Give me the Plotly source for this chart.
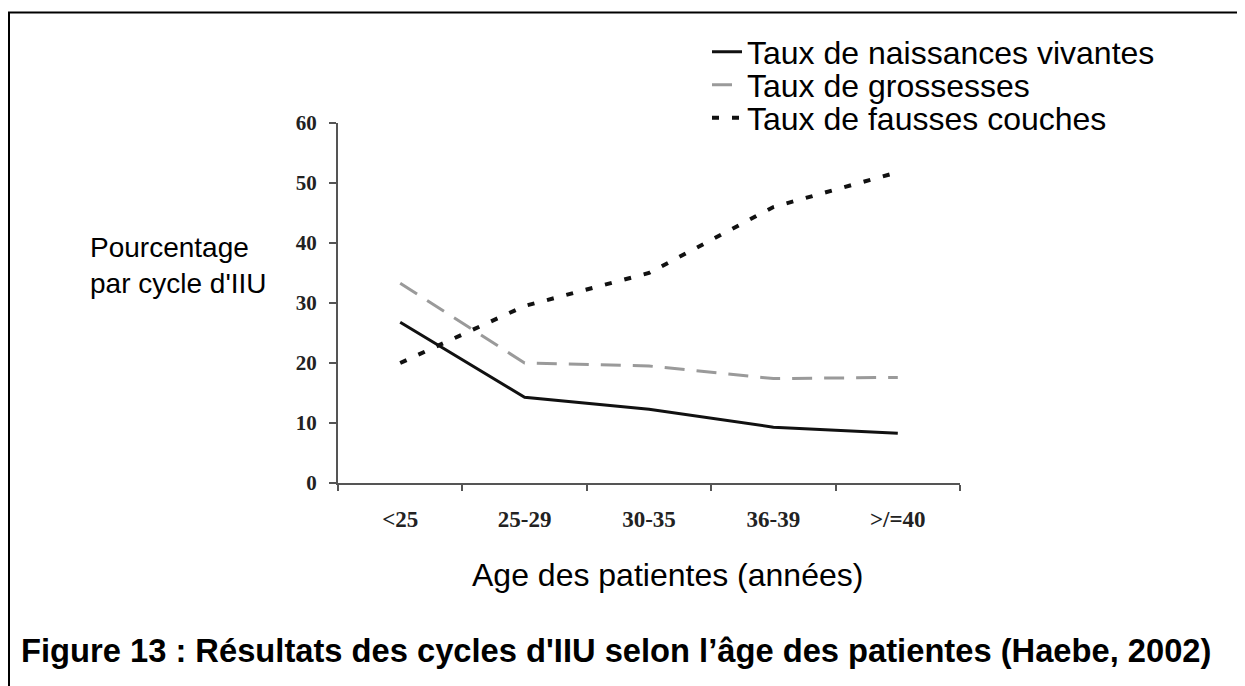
import plotly.graph_objects as go

categories = ["<25", "25-29", "30-35", "36-39", ">/=40"]
naissances = [26.8, 14.3, 12.3, 9.3, 8.3]
grossesses = [33.3, 20.0, 19.5, 17.4, 17.6]
fausses_couches = [20.0, 29.5, 35.0, 46.0, 51.8]
y_ticks = [0, 10, 20, 30, 40, 50, 60]

W, H = 1245, 686
# plot area in figure pixels (page adds an 8px body margin)
L, R, T, B = 330, 952, 115, 475


def px(x):
    return (x - L) / (R - L)


def py(y):
    return (B - y) / (B - T)


fig = go.Figure()
fig.add_trace(go.Scatter(x=categories, y=naissances, mode="lines",
                         name="Taux de naissances vivantes", legend="legend",
                         line=dict(color="#111111", width=3)))
fig.add_trace(go.Scatter(x=categories, y=grossesses, mode="lines",
                         name="Taux de grossesses", legend="legend2",
                         line=dict(color="#9a9a9a", width=3, dash="20px,12px")))
fig.add_trace(go.Scatter(x=categories, y=fausses_couches, mode="lines",
                         name="Taux de fausses couches", legend="legend3",
                         line=dict(color="#111111", width=4, dash="7px,13px")))

leg_font = dict(family="Liberation Sans, Arial", size=32, color="black")


def leg(yc):
    return dict(x=px(699), y=py(yc), xanchor="left", yanchor="middle",
                font=leg_font, bgcolor="rgba(0,0,0,0)", itemwidth=30)


tick_font_x = dict(family="Liberation Serif, Times New Roman", size=23,
                   color="#222222", weight="bold")
tick_font_y = dict(family="Liberation Serif, Times New Roman", size=21,
                   color="#222222", weight="bold")

fig.update_layout(
    width=W, height=H,
    margin=dict(l=L, r=W - R, t=T, b=H - B),
    paper_bgcolor="white", plot_bgcolor="white",
    showlegend=True,
    legend=leg(44), legend2=leg(77), legend3=leg(110),
    xaxis=dict(type="category", categoryorder="array", categoryarray=categories,
               range=[-0.5, 4.5], tickson="boundaries", ticks="outside", ticklen=6,
               tickcolor="#555555", tickwidth=2, showline=True, linecolor="#555555",
               linewidth=2, showgrid=False, zeroline=False, ticklabelstandoff=14,
               tickfont=tick_font_x),
    yaxis=dict(range=[0, 60], tickvals=y_ticks, ticks="outside", ticklen=7,
               tickcolor="#555555", tickwidth=2, showline=True, linecolor="#555555",
               linewidth=2, showgrid=False, zeroline=False, ticklabelstandoff=8,
               tickfont=tick_font_y),
)

fig.add_annotation(text="Pourcentage<br>par cycle d'IIU", xref="paper", yref="paper",
                   x=px(80), y=py(257), xanchor="left", yanchor="middle", align="left",
                   showarrow=False,
                   font=dict(family="Liberation Sans, Arial", size=28, color="black"))
fig.add_annotation(text="Age des patientes (années)", xref="paper", yref="paper",
                   x=px(659), y=py(567), xanchor="center", yanchor="middle",
                   showarrow=False,
                   font=dict(family="Liberation Sans, Arial", size=32, color="black"))
fig.add_annotation(text="<b>Figure 13 : Résultats des cycles d'IIU selon l’âge des patientes (Haebe, 2002)</b>",
                   xref="paper", yref="paper", x=px(11), y=py(642),
                   xanchor="left", yanchor="middle", showarrow=False,
                   font=dict(family="Liberation Sans, Arial", size=32.7, color="black"))

# page border (top and left)
fig.add_shape(type="line", xref="paper", yref="paper",
              x0=px(0), y0=py(4.5), x1=px(W + 5), y1=py(4.5),
              line=dict(color="black", width=2))
fig.add_shape(type="line", xref="paper", yref="paper",
              x0=px(1), y0=py(4.5), x1=px(1), y1=py(H + 5),
              line=dict(color="black", width=2))

fig.write_html("out.html")
